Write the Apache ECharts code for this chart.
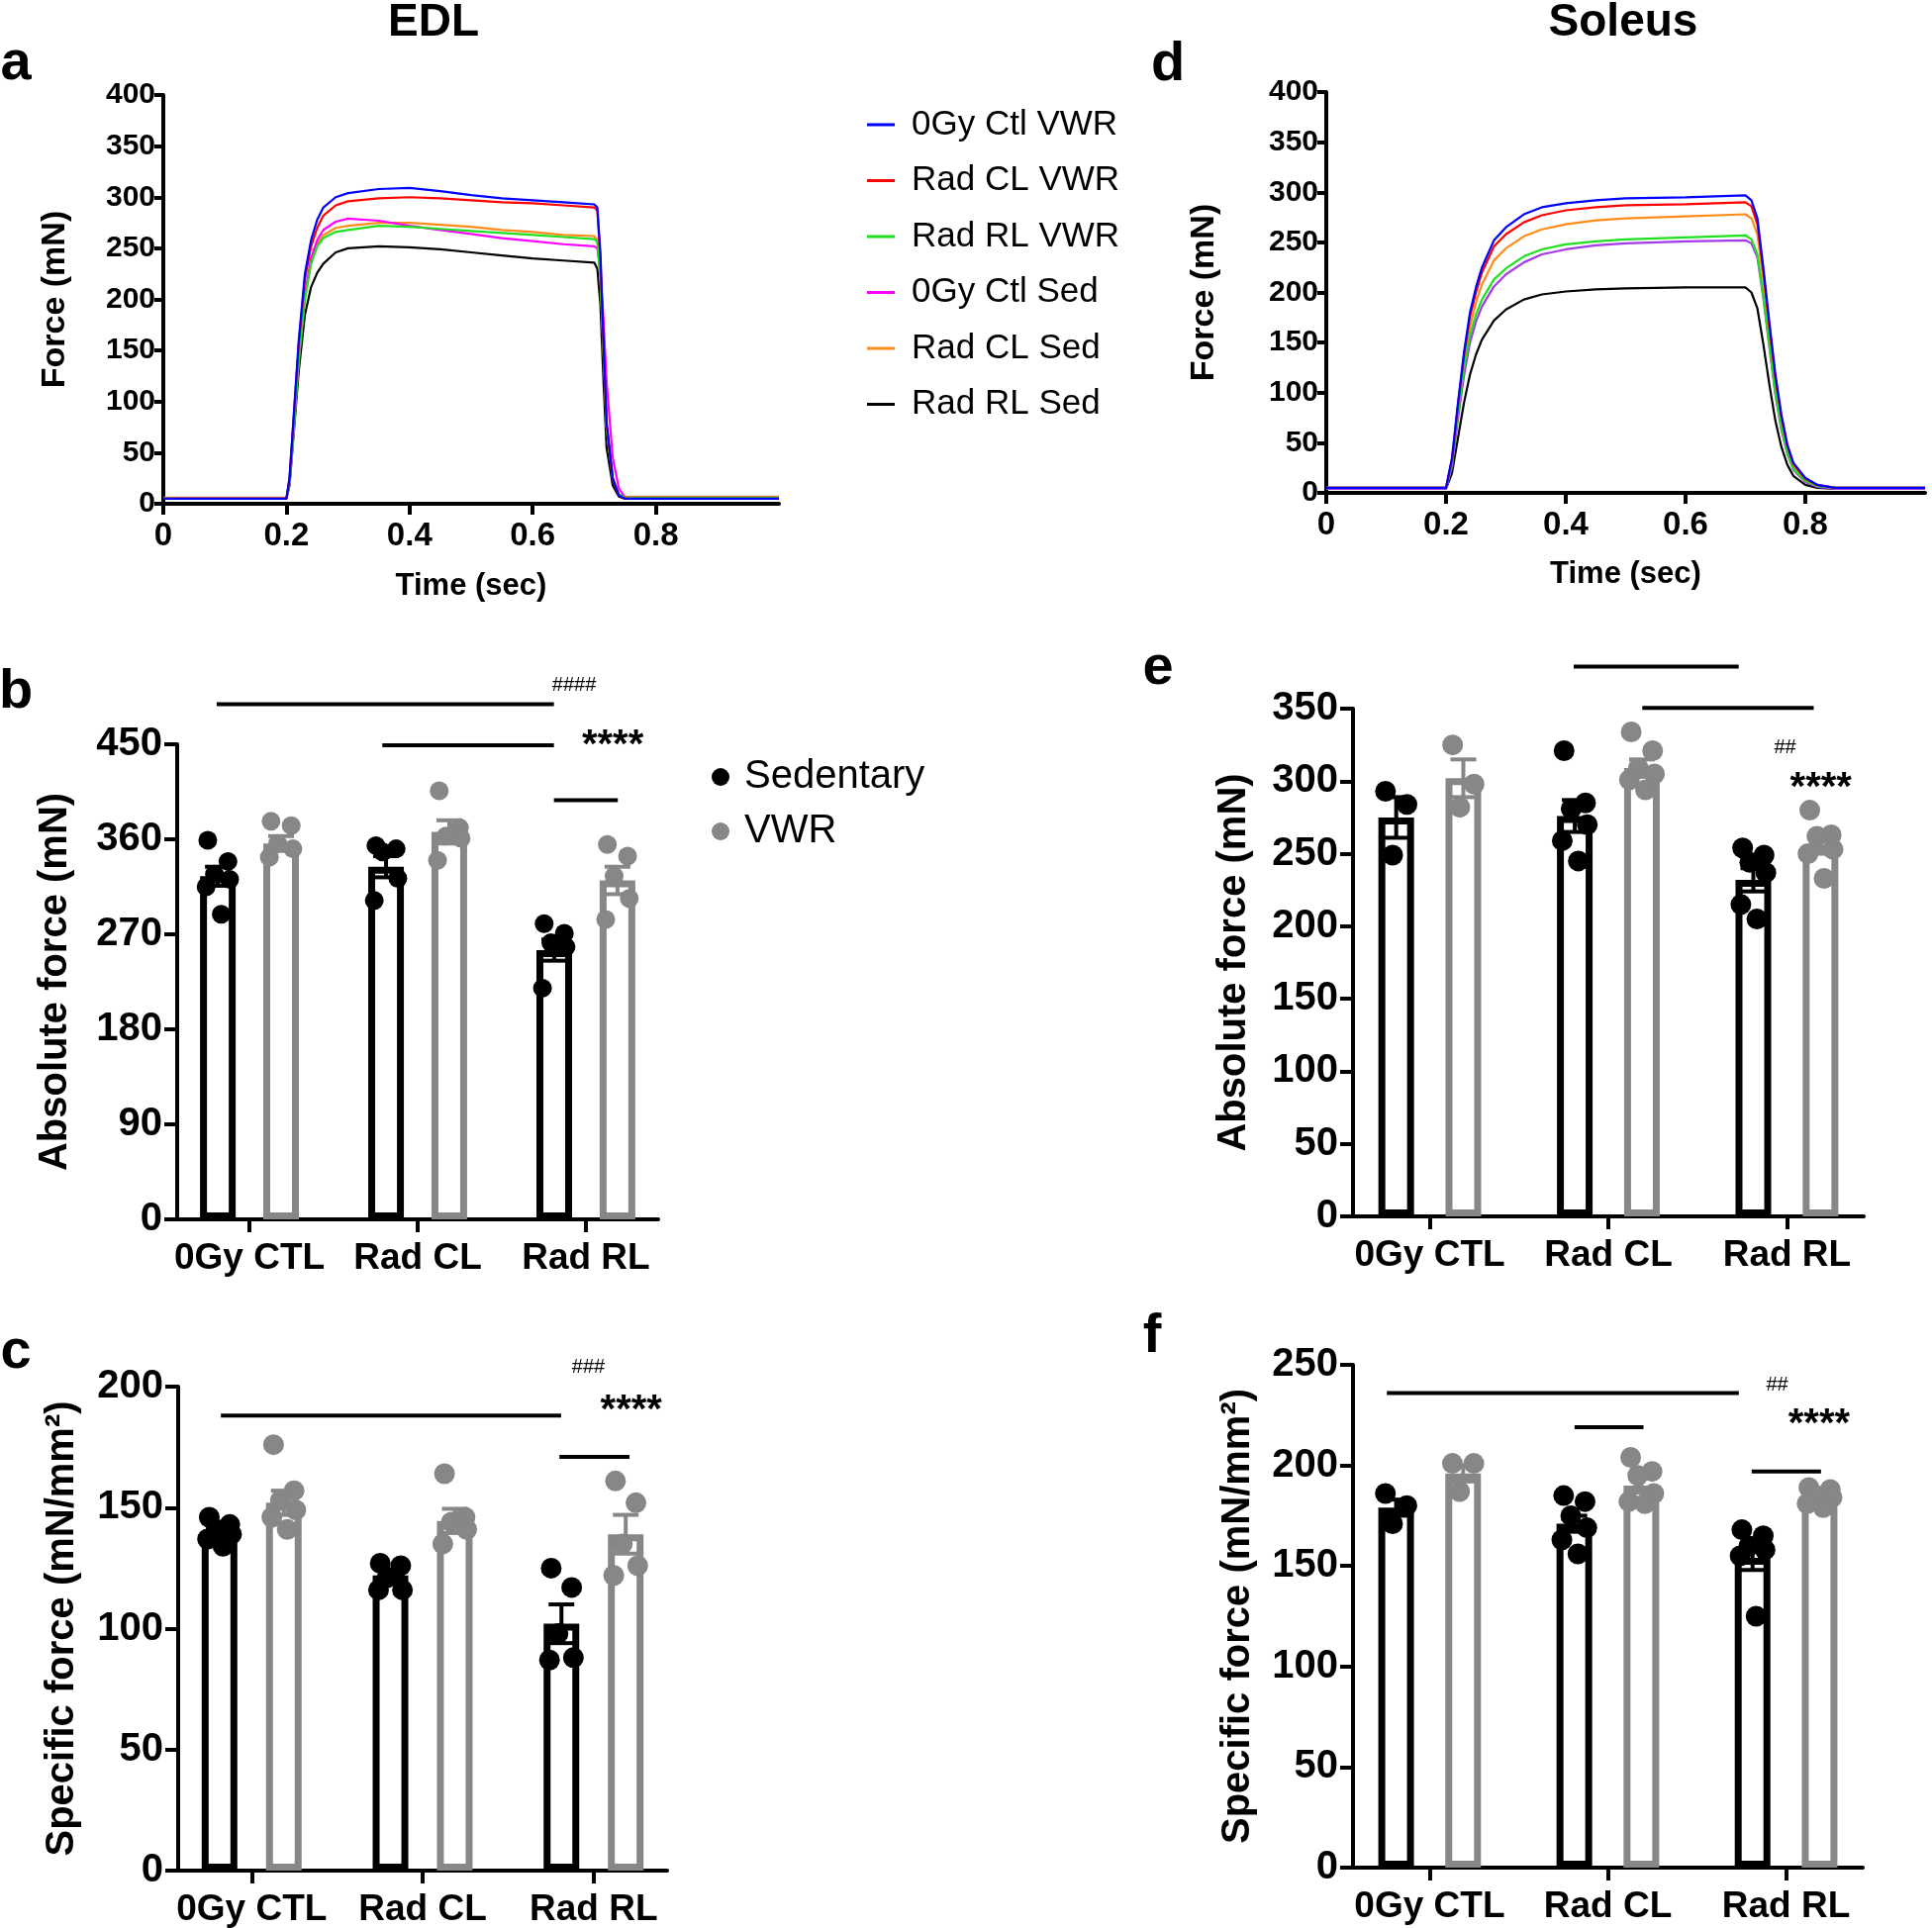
<!DOCTYPE html>
<html><head><meta charset="utf-8">
<script src="https://cdn.jsdelivr.net/npm/echarts@6/dist/echarts.min.js"></script>
<style>html,body{margin:0;padding:0;background:#fff}#c{width:1952px;height:1948px}</style>
</head><body><div id="c"></div>
<script>
// ================= DATA =================
const traceNames = ['0Gy Ctl VWR','Rad CL VWR','Rad RL VWR','0Gy Ctl Sed','Rad CL Sed','Rad RL Sed'];

// EDL tetanic traces (panel a), force in mN read at these times (sec)
const edlTime      = [0,0.2,0.205,0.21,0.22,0.23,0.24,0.25,0.26,0.28,0.3,0.35,0.4,0.45,0.5,0.55,0.6,0.65,0.7,0.705,0.71,0.715,0.72,0.73,0.74,0.75,0.8,1.0];
const edl0GyCtlVWR = [5,5,25,70,160,225,258,278,290,300,304,308,309,306,302,299,297,295,293,290,245,160,80,25,8,5,5,5];
const edlRadCLVWR  = [5,5,25,68,156,220,252,270,282,292,296,299,300,299,297,295,294,292,290,287,240,155,78,24,8,5,5,5];
const edlRadRLVWR  = [5,5,20,58,140,200,235,252,260,266,268,272,271,269,267,265,263,261,259,256,220,150,75,25,9,6,6,6];
const edl0GyCtlSed = [5,5,20,60,145,205,240,258,268,276,279,277,272,268,264,260,257,254,252,250,228,180,120,45,15,6,6,6];
const edlRadCLSed  = [6,6,22,60,142,202,236,254,263,270,272,275,275,273,271,268,266,263,262,258,222,150,75,25,9,7,7,7];
const edlRadRLSed  = [5,5,18,55,130,185,212,226,235,246,250,252,251,249,246,243,240,238,236,230,195,120,55,18,7,5,5,5];

// Soleus tetanic traces (panel d)
const solTime      = [0,0.2,0.21,0.22,0.23,0.24,0.25,0.26,0.28,0.3,0.33,0.36,0.4,0.45,0.5,0.6,0.7,0.71,0.72,0.73,0.74,0.75,0.76,0.77,0.78,0.8,0.82,0.85,1.0];
const sol0GyCtlVWR = [5,5,35,90,140,180,205,225,252,265,278,285,289,292,294,295,297,292,274,224,170,118,78,48,30,15,8,5,5];
const solRadCLVWR  = [5,5,33,88,137,176,200,220,246,258,270,277,282,285,287,288,290,286,268,220,166,115,76,47,29,14,8,5,5];
const solRadRLVWR  = [5,5,30,80,124,157,178,193,213,224,236,243,248,251,253,255,257,253,238,196,147,100,65,40,24,12,7,5,5];
const sol0GyCtlSed = [4,4,26,74,117,150,171,186,206,218,230,238,243,247,249,251,252,249,235,194,145,98,63,39,23,11,6,4,4];
const solRadCLSed  = [5,5,31,84,130,166,190,208,232,244,256,263,268,272,274,276,278,274,258,212,160,110,72,45,27,13,7,5,5];
const solRadRLSed  = [4,4,20,55,90,118,138,153,172,183,193,198,201,203,204,205,205,200,184,148,108,72,46,28,17,8,5,4,4];

const groups = ['0Gy CTL','Rad CL','Rad RL'];
const yTicksAbsEDL = 90, yTicksOther = 50;

// panel b: EDL absolute force (mN)
const bSedPts  = [[359,339,327,322,315,289],[354,351,348,323,302],[280,271,262,258,219]];
const bVwrPts  = [[377,373,356,351,343],[406,371,363,361,340],[355,344,325,304,284]];
const bSedMean = [325,334,255], bSedSem = [9,10,10];
const bVwrMean = [356,367,321], bVwrSem = [7,11,13];
const bLines   = [[-0.195,1.81,488],[0.79,1.81,449],[1.81,2.19,397]];
const bMarks   = [['####',1.93,506],['****',2.16,456]];

// panel c: EDL specific force (mN/mm2)
const cSedPts  = [[146,143,141,139,137,134],[127,126,121,116,116],[125,117,98,88,87]];
const cVwrPts  = [[176,157,153,149,146,141],[164,146,144,141,135],[161,152,135,126,122]];
const cSedMean = [139.5,122,102], cSedSem = [2,2.5,8];
const cVwrMean = [152,144.5,139], cVwrSem = [5,5,8];
const cLines   = [[-0.18,1.81,188],[1.80,2.21,171]];
const cMarks   = [['###',1.97,208],['****',2.22,193]];

// panel e: Soleus absolute force (mN)
const eSedPts  = [[293,284,249],[321,285,281,270,259,245],[254,249,244,237,215,205]];
const eVwrPts  = [[325,298,282],[334,321,309,305,301,294],[280,263,262,253,250,233]];
const eSedMean = [275,276,232], eSedSem = [14,11,8];
const eVwrMean = [302,309,256], eVwrSem = [13,6,6];
const eLines   = [[0.806,1.73,379],[1.19,2.15,350.5]];
const eMarks   = [['##',1.99,323],['****',2.19,300]];

// panel f: Soleus specific force (mN/mm2)
const fSedPts  = [[186,180,171],[185,182,175,169,163,156],[168,165,160,158,155,125]];
const fVwrPts  = [[201,201,187],[204,197,195,186,182,181],[189,188,185,184,181,179]];
const fSedMean = [179,171,154], fSedSem = [4,4,6];
const fVwrMean = [196,190,182], fVwrSem = [4,3.5,1.5];
const fLines   = [[-0.24,1.735,236],[0.813,1.2,219],[1.807,2.196,197]];
const fMarks   = [['##',1.95,240],['****',2.185,224]];

// ================= STYLE =================
const SANS = "'Liberation Sans',Arial,sans-serif";
const BLACK = '#000000', GRAY = '#878787';
const traceColors = {'0Gy Ctl VWR':'#0000ff','Rad CL VWR':'#ff0000','Rad RL VWR':'#1fe01f','0Gy Ctl Sed':'#ff00ff','Rad CL Sed':'#ff8c1a','Rad RL Sed':'#000000'};
const solMagenta = '#a33be6';
const SED_OFF = -0.188, VWR_OFF = 0.188;
const JITTER = [-0.06,0.06,-0.02,0.07,-0.07,0.02];
const AXW = 4;

const grids = [
  {left:165, top:96, width:622, height:413},
  {left:1340, top:93, width:605, height:405},
  {left:179, top:752, width:486, height:480},
  {left:180, top:1401, width:494, height:489},
  {left:1367, top:716, width:516, height:513},
  {left:1367, top:1379, width:515, height:508}
];

const axLine = {show:true, onZero:false, lineStyle:{color:BLACK, width:AXW}};
function traceX(gi, gap){
  const tv=[0,0.2,0.4,0.6,0.8];
  return {type:'value', gridIndex:gi, min:0, max:1, axisLine:axLine,
    axisTick:{show:true, customValues:tv, length:11, lineStyle:{color:BLACK,width:AXW}},
    axisLabel:{customValues:tv, formatter:v=> v===0?'0':v.toFixed(1), fontFamily:SANS, fontWeight:'bold', fontSize:33, color:BLACK, margin:16},
    splitLine:{show:false}, name:'Time (sec)', nameLocation:'middle', nameGap:gap,
    nameTextStyle:{fontFamily:SANS, fontWeight:'bold', fontSize:31, color:BLACK}};
}
function traceY(gi, gap){
  return {type:'value', gridIndex:gi, min:0, max:400, interval:50, axisLine:axLine,
    axisTick:{show:true, length:9, lineStyle:{color:BLACK,width:AXW}},
    axisLabel:{fontFamily:SANS, fontWeight:'bold', fontSize:30, color:BLACK, margin:8},
    splitLine:{show:false}, name:'Force (mN)', nameLocation:'middle', nameGap:gap,
    nameTextStyle:{fontFamily:SANS, fontWeight:'bold', fontSize:34, color:BLACK}};
}
function barX(gi){
  const tv=[0,1,2];
  return {type:'value', gridIndex:gi, min:-0.43, max:2.43, axisLine:axLine,
    axisTick:{show:true, customValues:tv, length:13, lineStyle:{color:BLACK,width:AXW}},
    axisLabel:{customValues:tv, formatter:v=>groups[Math.round(v)], fontFamily:SANS, fontWeight:'bold', fontSize:37, color:BLACK, margin:21},
    splitLine:{show:false}};
}
function barY(gi, max, interval, name, gap){
  return {type:'value', gridIndex:gi, min:0, max:max, interval:interval, axisLine:axLine,
    axisTick:{show:true, length:13, lineStyle:{color:BLACK,width:AXW}},
    axisLabel:{fontFamily:SANS, fontWeight:'bold', fontSize:40, color:BLACK, margin:15},
    splitLine:{show:false}, name:name, nameLocation:'middle', nameGap:gap,
    nameTextStyle:{fontFamily:SANS, fontWeight:'bold', fontSize:40, color:BLACK}};
}

const series = [];
function addTraces(gi, time, arrs, isSol){
  const order = [5,4,3,2,1,0];
  order.forEach(k=>{
    const nm = traceNames[k];
    let col = traceColors[nm];
    if (isSol && nm==='0Gy Ctl Sed') col = solMagenta;
    series.push({type:'line', name:nm, xAxisIndex:gi, yAxisIndex:gi, showSymbol:false, symbol:'none',
      data: time.map((t,i)=>[t, arrs[k][i]]), lineStyle:{color:col, width:2.2}, itemStyle:{color:col},
      z:2, silent:true});
  });
}
addTraces(0, edlTime, [edl0GyCtlVWR,edlRadCLVWR,edlRadRLVWR,edl0GyCtlSed,edlRadCLSed,edlRadRLSed], false);
addTraces(1, solTime, [sol0GyCtlVWR,solRadCLVWR,solRadRLVWR,sol0GyCtlSed,solRadCLSed,solRadRLSed], true);

function errSeries(gi, means, sems, off, col){
  return {type:'custom', xAxisIndex:gi, yAxisIndex:gi, z:3, silent:true,
    data: means.map((m,i)=>[i+off, m, sems[i]]),
    renderItem:(params, api)=>{
      const x=api.value(0), m=api.value(1), s=api.value(2);
      const p1=api.coord([x,m+s]), p2=api.coord([x,m-s]); const hw=13;
      const st={stroke:col, lineWidth:4};
      return {type:'group', children:[
        {type:'line', shape:{x1:p1[0],y1:p1[1],x2:p2[0],y2:p2[1]}, style:st},
        {type:'line', shape:{x1:p1[0]-hw,y1:p1[1],x2:p1[0]+hw,y2:p1[1]}, style:st},
        {type:'line', shape:{x1:p2[0]-hw,y1:p2[1],x2:p2[0]+hw,y2:p2[1]}, style:st}
      ]};
    }};
}
function addBarPanel(gi, sedPts, vwrPts, sedMean, sedSem, vwrMean, vwrSem, lines, marks, dot){
  const items=[];
  for(let i=0;i<3;i++){
    items.push({value:[i+SED_OFF, sedMean[i]], itemStyle:{borderColor:BLACK}});
    items.push({value:[i+VWR_OFF, vwrMean[i]], itemStyle:{borderColor:GRAY}});
  }
  series.push({type:'bar', xAxisIndex:gi, yAxisIndex:gi, barWidth:36, data:items,
    itemStyle:{color:'#ffffff', borderWidth:7}, z:2, silent:true});
  series.push(errSeries(gi, sedMean, sedSem, SED_OFF, BLACK));
  series.push(errSeries(gi, vwrMean, vwrSem, VWR_OFF, GRAY));
  const pts=(arr,off)=>{const out=[]; arr.forEach((g,i)=>g.forEach((v,j)=>out.push([i+off+JITTER[j%JITTER.length], v]))); return out;};
  series.push({type:'scatter', name:'Sedentary', xAxisIndex:gi, yAxisIndex:gi, symbolSize:dot, itemStyle:{color:BLACK, opacity:1}, data:pts(sedPts,SED_OFF), z:4, silent:true});
  series.push({type:'scatter', name:'VWR', xAxisIndex:gi, yAxisIndex:gi, symbolSize:dot, itemStyle:{color:GRAY, opacity:1}, data:pts(vwrPts,VWR_OFF), z:4, silent:true});
  series.push({type:'custom', xAxisIndex:gi, yAxisIndex:gi, z:5, silent:true, clip:false, data:lines,
    renderItem:(params, api)=>{
      const p1=api.coord([api.value(0), api.value(2)]), p2=api.coord([api.value(1), api.value(2)]);
      return {type:'line', shape:{x1:p1[0],y1:p1[1],x2:p2[0],y2:p2[1]}, style:{stroke:BLACK, lineWidth:4}};
    }});
  series.push({type:'custom', xAxisIndex:gi, yAxisIndex:gi, z:5, silent:true, clip:false,
    data: marks.map(m=>[m[1], m[2]]),
    renderItem:(params, api)=>{
      const p=api.coord([api.value(0), api.value(1)]);
      const txt=marks[params.dataIndex][0];
      const star = txt.indexOf('*')>=0;
      return {type:'text', x:p[0], y:p[1]+(star?8:0), style:{text:txt, fontFamily:SANS,
        fontWeight: star?'bold':'normal', fontSize: star?40:20, fill:BLACK, align:'center', verticalAlign:'middle'}};
    }});
}
addBarPanel(2, bSedPts, bVwrPts, bSedMean, bSedSem, bVwrMean, bVwrSem, bLines, bMarks, 19);
addBarPanel(3, cSedPts, cVwrPts, cSedMean, cSedSem, cVwrMean, cVwrSem, cLines, cMarks, 21);
addBarPanel(4, eSedPts, eVwrPts, eSedMean, eSedSem, eVwrMean, eVwrSem, eLines, eMarks, 21);
addBarPanel(5, fSedPts, fVwrPts, fSedMean, fSedSem, fVwrMean, fVwrSem, fLines, fMarks, 21);

const txt = (t,x,y,size,font,weight)=>({type:'text', x:x, y:y, silent:true,
  style:{text:t, fontFamily:font, fontWeight:weight||'bold', fontSize:size, fill:BLACK, align:'center', verticalAlign:'middle'}});

const option = {
  animation:false,
  backgroundColor:'#ffffff',
  grid: grids,
  xAxis: [traceX(0,68), traceX(1,67), barX(2), barX(3), barX(4), barX(5)],
  yAxis: [traceY(0,92), traceY(1,106),
          barY(2,450,yTicksAbsEDL,'Absolute force (mN)',103),
          barY(3,200,yTicksOther,'Specific force (mN/mm²)',97),
          barY(4,350,yTicksOther,'Absolute force (mN)',100),
          barY(5,250,yTicksOther,'Specific force (mN/mm²)',96)],
  legend: [
    {data:traceNames, orient:'vertical', left:871, top:101, icon:'rect', itemWidth:28, itemHeight:3, itemGap:16.5,
     selectedMode:false, textStyle:{fontFamily:SANS, fontSize:35, color:BLACK, padding:[0,0,0,12], lineHeight:40}},
    {data:['Sedentary','VWR'], orient:'vertical', left:714, top:757, icon:'circle', itemWidth:18, itemHeight:18, itemGap:9,
     selectedMode:false, textStyle:{fontFamily:SANS, fontSize:40, color:BLACK, padding:[0,0,0,10], lineHeight:46}}
  ],
  graphic: [
    txt('EDL',438,23,46,SANS),
    txt('Soleus',1640,23,46,SANS),
    txt('a',16,65,56,SANS), txt('b',16,700,56,SANS), txt('c',16,1367,56,SANS),
    txt('d',1180,66,56,SANS), txt('e',1170,676,56,SANS), txt('f',1164,1351,56,SANS)
  ],
  series: series
};
const chart = echarts.init(document.getElementById('c'));
chart.setOption(option);
</script></body></html>
